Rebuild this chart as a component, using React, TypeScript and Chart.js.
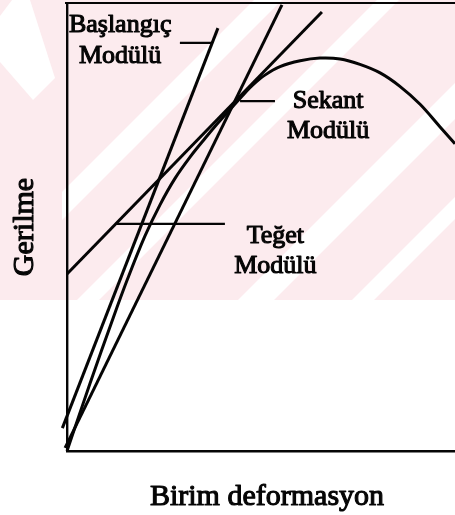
import React, { useEffect, useRef } from "react";
import { Chart, registerables } from "chart.js";

Chart.register(...registerables);

// Stress–strain curve (strain, stress) in arbitrary units
const curveStrain = [0, 0.59, 1.19, 1.57, 2.01, 2.4, 2.78, 3.17, 3.56, 3.89, 4.2, 4.51, 4.79, 5.1, 5.49, 6.01, 6.52, 7.04, 7.55, 8.07, 8.58, 9.1, 9.61, 10.0];
const curveStress = [0, 1.5, 2.97, 3.86, 4.8, 5.5, 6.08, 6.56, 6.98, 7.32, 7.62, 7.92, 8.17, 8.39, 8.58, 8.71, 8.77, 8.75, 8.63, 8.44, 8.14, 7.74, 7.24, 6.86];

// Modulus lines, each given by its two end points
const initialStrain = [-0.12, 3.89];
const initialStress = [0.51, 9.44];
const secantStrain = [-0.05, 5.54];
const secantStress = [0.07, 9.96];
const tangentStrain = [0, 6.57];
const tangentStress = [3.95, 9.8];

// Annotation labels (two lines each) and their leader lines
const labelFirst = ["Başlangıç", "Sekant", "Teğet"];
const labelSecond = ["Modülü", "Modülü", "Modülü"];
const labelStrain = [1.37, 6.73, 5.37];
const labelStressFirst = [9.35, 7.66, 4.64];
const labelStressSecond = [8.66, 6.99, 3.97];
const leaderFrom = [2.91, 4.46, 1.24];
const leaderTo = [3.74, 5.36, 4.07];
const leaderStress = [9.11, 7.81, 5.07];

const xTitle = "Birim deformasyon";
const yTitle = "Gerilme";

const SERIF = '"Liberation Serif", "Times New Roman", serif';
const INK = "#050505";

const toPoints = (xs: number[], ys: number[]) => xs.map((x, i) => ({ x, y: ys[i] }));

// Faint striped backdrop behind the upper part of the figure
const backdrop = {
  id: "backdrop",
  beforeDraw(chart: Chart) {
    const { ctx, width } = chart;
    const h = 300;
    ctx.save();
    ctx.fillStyle = "#fcebee";
    ctx.fillRect(0, 0, width, h);
    ctx.fillStyle = "#ffffff";
    // chevron on the left
    ctx.beginPath();
    ctx.moveTo(12, 0);
    ctx.lineTo(30, 0);
    ctx.lineTo(55, 78);
    ctx.lineTo(33, 100);
    ctx.lineTo(0, 62);
    ctx.lineTo(0, 16);
    ctx.closePath();
    ctx.fill();
    // diagonal bands
    ctx.beginPath();
    ctx.rect(62, 0, width, h);
    ctx.clip();
    const bands: [number, number][] = [
      [268, 14],
      [388, 11],
      [556, 18],
      [663, 11],
    ];
    bands.forEach(([c, w]) => {
      ctx.beginPath();
      ctx.moveTo(c - w, 0);
      ctx.lineTo(c + w, 0);
      ctx.lineTo(c + w - h, h);
      ctx.lineTo(c - w - h, h);
      ctx.closePath();
      ctx.fill();
    });
    ctx.restore();
  },
};

// Slightly heavier text, as in a printed figure
const inkText = (ctx: CanvasRenderingContext2D, t: string, x: number, y: number) => {
  ctx.strokeText(t, x, y);
  ctx.fillText(t, x, y);
};

// Frame top edge, leader lines, labels and axis titles
const annotations = {
  id: "annotations",
  afterDatasetsDraw(chart: Chart) {
    const { ctx, chartArea } = chart;
    const xs = chart.scales.x;
    const ys = chart.scales.y;
    ctx.save();
    ctx.strokeStyle = INK;
    ctx.lineWidth = 2;
    ctx.beginPath();
    ctx.moveTo(chartArea.left - 2, chartArea.top);
    ctx.lineTo(chartArea.right, chartArea.top);
    ctx.stroke();

    ctx.lineWidth = 2.4;
    leaderFrom.forEach((x0, i) => {
      const y = ys.getPixelForValue(leaderStress[i]);
      ctx.beginPath();
      ctx.moveTo(xs.getPixelForValue(x0), y);
      ctx.lineTo(xs.getPixelForValue(leaderTo[i]), y);
      ctx.stroke();
    });

    ctx.fillStyle = INK;
    ctx.lineWidth = 1.1;
    ctx.lineJoin = "round";
    ctx.textAlign = "center";
    ctx.textBaseline = "alphabetic";
    ctx.font = `26px ${SERIF}`;
    labelFirst.forEach((t, i) => {
      const x = xs.getPixelForValue(labelStrain[i]);
      inkText(ctx, t, x, ys.getPixelForValue(labelStressFirst[i]));
      inkText(ctx, labelSecond[i], x, ys.getPixelForValue(labelStressSecond[i]));
    });

    ctx.font = `30px ${SERIF}`;
    inkText(ctx, xTitle, (chartArea.left + chartArea.right) / 2 + 6, chartArea.bottom + 54);
    ctx.translate(chartArea.left - 34, (chartArea.top + chartArea.bottom) / 2);
    ctx.rotate(-Math.PI / 2);
    inkText(ctx, yTitle, 0, 0);
    ctx.restore();
  },
};

export default function App() {
  const canvasRef = useRef<HTMLCanvasElement | null>(null);

  useEffect(() => {
    if (!canvasRef.current) return;
    const line = (data: { x: number; y: number }[], tension = 0) => ({
      data,
      showLine: true,
      borderColor: INK,
      borderWidth: 3,
      pointRadius: 0,
      tension,
      clip: false as const,
    });
    const chart = new Chart(canvasRef.current, {
      type: "scatter",
      data: {
        datasets: [
          line(toPoints(curveStrain, curveStress), 0.35),
          line(toPoints(initialStrain, initialStress)),
          line(toPoints(secantStrain, secantStress)),
          line(toPoints(tangentStrain, tangentStress)),
        ],
      },
      options: {
        animation: false,
        responsive: true,
        maintainAspectRatio: false,
        layout: { padding: { top: 3, right: 0, bottom: 0, left: 0 } },
        plugins: { legend: { display: false }, tooltip: { enabled: false } },
        scales: {
          x: {
            type: "linear",
            min: 0,
            max: 10,
            grid: { display: false },
            ticks: { display: false },
            border: { display: true, color: INK, width: 2.4 },
            afterFit: (s: any) => {
              s.height = 64;
            },
          },
          y: {
            type: "linear",
            min: 0,
            max: 10,
            grid: { display: false },
            ticks: { display: false },
            border: { display: true, color: INK, width: 2.4 },
            afterFit: (s: any) => {
              s.width = 67;
            },
          },
        },
      },
      plugins: [backdrop, annotations],
    });
    return () => chart.destroy();
  }, []);

  return (
    <div style={{ position: "absolute", left: 0, top: 0, width: 455, height: 515, background: "#fff" }}>
      <canvas ref={canvasRef} />
    </div>
  );
}
